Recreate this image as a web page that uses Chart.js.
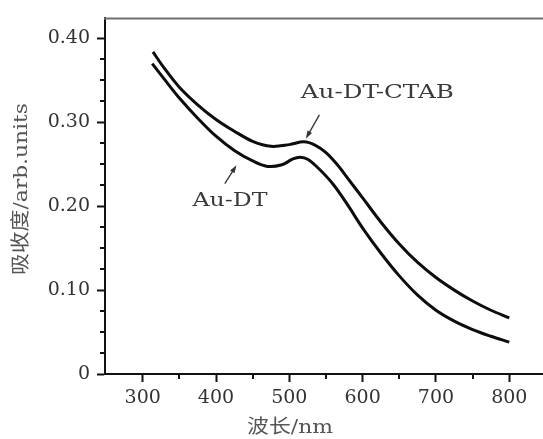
<!DOCTYPE html>
<html>
<head>
<meta charset="utf-8">
<script src="https://cdn.jsdelivr.net/npm/chart.js@4.4.1/dist/chart.umd.min.js"></script>
<style>
 html, body { margin: 0; padding: 0; background: #fff; }
 #wrap { width: 543px; height: 439px; }
</style>
</head>
<body>
<div id="wrap"><canvas id="absorbChart"></canvas></div>
<script>
// Au-DT-CTAB (upper curve)
var waveCTAB = [314, 330, 350, 375, 400, 425, 450, 475, 500, 520, 535, 550, 565, 580, 600, 625, 650, 675, 700, 725, 750, 775, 800];
var absCTAB = [0.384, 0.364, 0.342, 0.321, 0.3035, 0.2895, 0.2775, 0.2715, 0.2735, 0.2768, 0.273, 0.264, 0.250, 0.233, 0.210, 0.181, 0.155, 0.133, 0.115, 0.100, 0.087, 0.076, 0.067];

// Au-DT (lower curve)
var waveDT = [313, 330, 350, 375, 400, 425, 450, 470, 490, 505, 515, 525, 540, 560, 580, 600, 625, 650, 675, 700, 725, 750, 775, 800];
var absDT = [0.370, 0.351, 0.329, 0.305, 0.2835, 0.2665, 0.254, 0.2475, 0.2495, 0.2565, 0.2585, 0.256, 0.245, 0.226, 0.201, 0.174, 0.144, 0.117, 0.094, 0.076, 0.063, 0.053, 0.045, 0.038];

var xTicks = [300, 400, 500, 600, 700, 800];
var xMinor = [350, 450, 550, 650, 750];
var yTicks = [0, 0.1, 0.2, 0.3, 0.4];
var yTickLabels = ["0", "0.10", "0.20", "0.30", "0.40"];
var yMinor = [0.025, 0.05, 0.075, 0.125, 0.15, 0.175, 0.225, 0.25, 0.275, 0.325, 0.35, 0.375];

var xTitle = "波长/nm";
var yTitle = "吸收度/arb.units";

// annotations: label + arrow (data coords)
var notes = [
 { text: "Au-DT-CTAB", at: [620, 0.335], from: [541, 0.309], to: [522.5, 0.2805] },
 { text: "Au-DT", at: [419, 0.2065], from: [412, 0.227], to: [428, 0.249] },
];

var serif = "'DejaVu Serif', 'Liberation Serif', 'Noto Sans CJK SC', serif";

function toPoints(xs, ys) {
 return xs.map(function (v, i) {
  return { x: v, y: ys[i] };
 });
}

function fitText(ctx, text, cx, cy, width, size, rotate) {
 ctx.save();
 ctx.font = size + "px " + serif;
 var w = ctx.measureText(text).width;
 ctx.translate(cx, cy);
 if (rotate) ctx.rotate(-Math.PI / 2);
 ctx.scale(width / w, 1);
 ctx.textAlign = "center";
 ctx.textBaseline = "middle";
 ctx.fillText(text, 0, 0);
 ctx.restore();
}

function drawArrow(ctx, x1, y1, x2, y2) {
 var ang = Math.atan2(y2 - y1, x2 - x1);
 var len = 8, half = 2.6;
 ctx.beginPath();
 ctx.moveTo(x1, y1);
 ctx.lineTo(x2 - Math.cos(ang) * len * 0.8, y2 - Math.sin(ang) * len * 0.8);
 ctx.stroke();
 ctx.beginPath();
 ctx.moveTo(x2, y2);
 ctx.lineTo(x2 - Math.cos(ang) * len - Math.sin(ang) * half, y2 - Math.sin(ang) * len + Math.cos(ang) * half);
 ctx.lineTo(x2 - Math.cos(ang) * len + Math.sin(ang) * half, y2 - Math.sin(ang) * len - Math.cos(ang) * half);
 ctx.closePath();
 ctx.fill();
}

var decorPlugin = {
 id: "decor",
 afterDraw: function (chart) {
  var ctx = chart.ctx;
  var xs = chart.scales.x, ys = chart.scales.y, area = chart.chartArea;
  ctx.save();

  // top frame
  ctx.strokeStyle = "#6e6e6e";
  ctx.lineWidth = 2;
  ctx.beginPath();
  ctx.moveTo(area.left - 1, area.top);
  ctx.lineTo(area.right, area.top);
  ctx.stroke();

  // minor ticks
  ctx.strokeStyle = "#111";
  ctx.lineWidth = 2;
  xMinor.forEach(function (v) {
   var px = Math.round(xs.getPixelForValue(v));
   ctx.beginPath();
   ctx.moveTo(px, area.bottom);
   ctx.lineTo(px, area.bottom + 5);
   ctx.stroke();
  });
  yMinor.forEach(function (v) {
   var py = Math.round(ys.getPixelForValue(v));
   ctx.beginPath();
   ctx.moveTo(area.left, py);
   ctx.lineTo(area.left - 5, py);
   ctx.stroke();
  });

  // annotations
  ctx.strokeStyle = "#333";
  ctx.fillStyle = "#333";
  ctx.lineWidth = 1.3;
  notes.forEach(function (n) {
   drawArrow(ctx,
    xs.getPixelForValue(n.from[0]), ys.getPixelForValue(n.from[1]),
    xs.getPixelForValue(n.to[0]), ys.getPixelForValue(n.to[1]));
  });
  ctx.fillStyle = "#3a3a3a";
  fitText(ctx, notes[0].text, xs.getPixelForValue(notes[0].at[0]), ys.getPixelForValue(notes[0].at[1]), 153, 19, false);
  fitText(ctx, notes[1].text, xs.getPixelForValue(notes[1].at[0]), ys.getPixelForValue(notes[1].at[1]), 75, 19, false);

  // axis titles
  ctx.fillStyle = "#555";
  fitText(ctx, xTitle, 290, 428, 86, 19, false);
  fitText(ctx, yTitle, 22, 189, 172, 19, true);

  ctx.restore();
 },
};

var chartDiv = document.getElementById("absorbChart");

new Chart(chartDiv, {
 type: "line",
 data: {
  datasets: [
   {
    label: "Au-DT-CTAB",
    data: toPoints(waveCTAB, absCTAB),
    borderColor: "#0d0d0d",
    borderWidth: 3,
    pointRadius: 0,
    tension: 0.35,
    fill: false,
   },
   {
    label: "Au-DT",
    data: toPoints(waveDT, absDT),
    borderColor: "#0d0d0d",
    borderWidth: 3,
    pointRadius: 0,
    tension: 0.35,
    fill: false,
   },
  ],
 },
 options: {
  responsive: true,
  maintainAspectRatio: false,
  animation: false,
  layout: { padding: { top: 15, right: 0, left: 0, bottom: 0 } },
  plugins: {
   legend: { display: false },
   tooltip: { enabled: false },
  },
  scales: {
   x: {
    type: "linear",
    min: 248.6,
    max: 846,
    afterFit: function (scale) {
     scale.height = 65;
    },
    afterBuildTicks: function (scale) {
     scale.ticks = xTicks.map(function (v) {
      return { value: v };
     });
    },
    border: { color: "#111", width: 2 },
    grid: {
     drawOnChartArea: false,
     tickLength: 8,
     tickWidth: 2,
     tickColor: "#111",
    },
    ticks: {
     padding: 5,
     color: "#333",
     maxRotation: 0,
     font: { family: serif, size: 19 },
     callback: function (v) {
      return String(v);
     },
    },
   },
   y: {
    min: 0,
    max: 0.424,
    afterFit: function (scale) {
     scale.width = 105;
    },
    afterBuildTicks: function (scale) {
     scale.ticks = yTicks.map(function (v) {
      return { value: v };
     });
    },
    border: { color: "#111", width: 2 },
    grid: {
     drawOnChartArea: false,
     tickLength: 8,
     tickWidth: 2,
     tickColor: "#111",
    },
    ticks: {
     padding: 7,
     color: "#333",
     font: { family: serif, size: 19 },
     callback: function (v, i) {
      return yTickLabels[i];
     },
    },
   },
  },
 },
 plugins: [decorPlugin],
});
</script>
</body>
</html>
